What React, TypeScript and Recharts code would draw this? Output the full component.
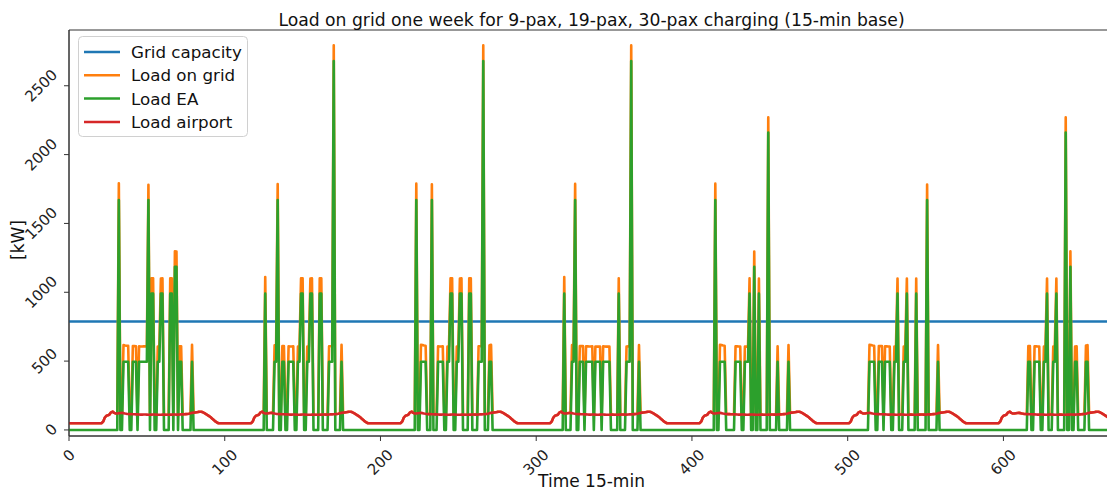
import { LineChart, Line, XAxis, YAxis, ReferenceArea } from 'recharts'

// one week at 15-min resolution
const N_POINTS = 672
const DAY_LEN = 96
const X_TICKS = [0, 100, 200, 300, 400, 500, 600]
const Y_TICKS = [0, 500, 1000, 1500, 2000, 2500]
const GRID_CAPACITY = 788

// airport base load over one day (kW per 15-min step), same profile every day
const AIRPORT_DAY = [
  49, 49, 49, 49, 49, 49, 49, 49, 49, 49, 49, 49, 49, 49, 49, 49,
  49, 49, 49, 49, 49, 49, 62, 90, 103, 106, 112, 128, 133, 124, 120, 119,
  121, 123, 124, 122, 119, 117, 116, 115, 115, 114, 114, 113, 113, 112, 111, 111,
  112, 112, 111, 110, 110, 111, 112, 112, 111, 110, 110, 110, 111, 111, 110, 110,
  110, 111, 111, 112, 112, 111, 111, 112, 113, 113, 114, 115, 116, 118, 121, 124,
  126, 127, 129, 131, 132, 132, 128, 122, 115, 108, 100, 92, 82, 72, 62, 54,
]

// EA charging load: [first step, last step, kW]
const EA_RUNS: [number, number, number][] = [
  // day 1
  [32, 32, 1670], [35, 38, 495], [41, 43, 495], [45, 50, 495], [51, 51, 1670],
  [53, 54, 990], [57, 58, 495], [59, 60, 990], [65, 66, 990], [68, 69, 1185],
  [71, 72, 495], [79, 79, 495],
  // day 2
  [126, 126, 990], [132, 133, 495], [134, 134, 1670], [137, 138, 495], [141, 144, 495],
  [147, 148, 495], [149, 150, 990], [153, 154, 495], [155, 156, 990], [161, 162, 990],
  [167, 169, 495], [170, 170, 2680], [175, 175, 495],
  // day 3
  [223, 223, 1670], [226, 229, 495], [233, 233, 1670], [237, 240, 495], [243, 244, 495],
  [245, 246, 990], [249, 250, 495], [251, 252, 990], [257, 258, 990], [263, 265, 495],
  [266, 266, 2680], [270, 271, 495],
  // day 4
  [318, 318, 990], [323, 324, 495], [325, 325, 1670], [328, 330, 495], [332, 336, 495],
  [338, 341, 495], [343, 347, 495], [353, 353, 990], [358, 360, 495], [361, 361, 2680],
  [366, 366, 495],
  // day 5
  [415, 415, 1670], [418, 421, 495], [428, 431, 495], [434, 436, 495], [437, 437, 990],
  [440, 440, 1185], [443, 443, 990], [449, 449, 2160], [455, 455, 495], [462, 462, 495],
  // day 6
  [514, 517, 495], [520, 522, 495], [524, 527, 495], [530, 531, 495], [532, 532, 990],
  [536, 537, 495], [538, 538, 990], [544, 544, 990], [551, 551, 1670], [558, 558, 495],
  // day 7
  [616, 617, 495], [620, 623, 495], [626, 627, 495], [628, 628, 990], [632, 633, 495],
  [634, 634, 990], [640, 640, 2160], [643, 643, 1185], [646, 647, 495], [653, 654, 495],
]

const ea: number[] = new Array(N_POINTS).fill(0)
EA_RUNS.forEach(([a, b, v]) => {
  for (let i = a; i <= b; i++) ea[i] = v
})

const data = ea.map((v, i) => {
  const airport = AIRPORT_DAY[i % DAY_LEN]
  return { t: i, cap: GRID_CAPACITY, grid: v + airport, ea: v, airport }
})

const FONT = 'DejaVu Sans'
const TICK_FS = 15
const LW = 2.6

function boxExtent(s: string) {
  const w = s.length * 0.636 * TICK_FS
  return (w + TICK_FS * 1.17) * 0.7071
}

function XTick(props: any) {
  const { x, y, payload } = props
  const s = String(payload.value)
  const cy = y + 3 + boxExtent(s) / 2
  return (
    <text x={x} y={cy} transform={`rotate(-45 ${x} ${cy})`} textAnchor="middle"
      dominantBaseline="central" fontSize={TICK_FS} fontFamily={FONT} fill="#222">{s}</text>
  )
}

function YTick(props: any) {
  const { x, y, payload } = props
  const s = String(payload.value)
  const cx = x - 1 - boxExtent(s) / 2
  return (
    <text x={cx} y={y} transform={`rotate(-45 ${cx} ${y})`} textAnchor="middle"
      dominantBaseline="central" fontSize={TICK_FS} fontFamily={FONT} fill="#222">{s}</text>
  )
}

const legendItems = [
  { name: 'Grid capacity', color: '#1f77b4' },
  { name: 'Load on grid', color: '#ff7f0e' },
  { name: 'Load EA', color: '#2ca02c' },
  { name: 'Load airport', color: '#d62728' },
]

export default function App() {
  return (
    <div style={{ position: 'fixed', left: 0, top: 0, width: 1107, height: 493, overflow: 'hidden', background: '#fff', fontFamily: FONT, color: '#111' }}>
      <LineChart width={1130} height={493} data={data} margin={{ top: 30, right: 16, bottom: 0, left: 0 }}>
        <ReferenceArea x1={0} x2={671} y1={-44} y2={2905} fill="none" stroke="#333" strokeWidth={1} />
        <XAxis dataKey="t" type="number" domain={[0, 671]} ticks={X_TICKS} height={57}
          tick={<XTick />} tickSize={5} tickLine={{ stroke: '#333' }} axisLine={{ stroke: '#333' }} />
        <YAxis type="number" domain={[-44, 2905]} ticks={Y_TICKS} width={69}
          tick={<YTick />} tickSize={5} tickLine={{ stroke: '#333' }} axisLine={{ stroke: '#333' }} />
        <Line dataKey="cap" type="linear" stroke="#1f77b4" strokeWidth={2.4} dot={false} isAnimationActive={false} />
        <Line dataKey="grid" type="linear" stroke="#ff7f0e" strokeWidth={LW} strokeLinejoin="round" dot={false} isAnimationActive={false} />
        <Line dataKey="ea" type="linear" stroke="#2ca02c" strokeWidth={LW} strokeLinejoin="round" dot={false} isAnimationActive={false} />
        <Line dataKey="airport" type="linear" stroke="#d62728" strokeWidth={LW} strokeLinejoin="round" dot={false} isAnimationActive={false} />
      </LineChart>

      <div style={{ position: 'absolute', left: 591.5, top: 20, transform: 'translate(-50%, -50%)', fontSize: 17.2, whiteSpace: 'nowrap' }}>
        Load on grid one week for 9-pax, 19-pax, 30-pax charging (15-min base)
      </div>
      <div style={{ position: 'absolute', left: 591.5, top: 481, transform: 'translate(-50%, -50%)', fontSize: 17, whiteSpace: 'nowrap' }}>
        Time 15-min
      </div>
      <div style={{ position: 'absolute', left: 18, top: 240, transform: 'translate(-50%, -50%) rotate(-90deg)', fontSize: 17, whiteSpace: 'nowrap' }}>
        [kW]
      </div>

      <svg width={172} height={103} style={{ position: 'absolute', left: 77, top: 35 }}>
        <rect x={1.5} y={1.5} width={169} height={100} rx={4} fill="rgba(255,255,255,0.8)" stroke="#d0d0d0" strokeWidth={1} />
        {legendItems.map((it, k) => {
          const cy = 17 + k * 23.3
          return (
            <g key={it.name}>
              <line x1={7} x2={43} y1={cy} y2={cy} stroke={it.color} strokeWidth={2.5} />
              <text x={54} y={cy} dominantBaseline="central" fontSize={16.7} fontFamily={FONT} fill="#111">{it.name}</text>
            </g>
          )
        })}
      </svg>
    </div>
  )
}
